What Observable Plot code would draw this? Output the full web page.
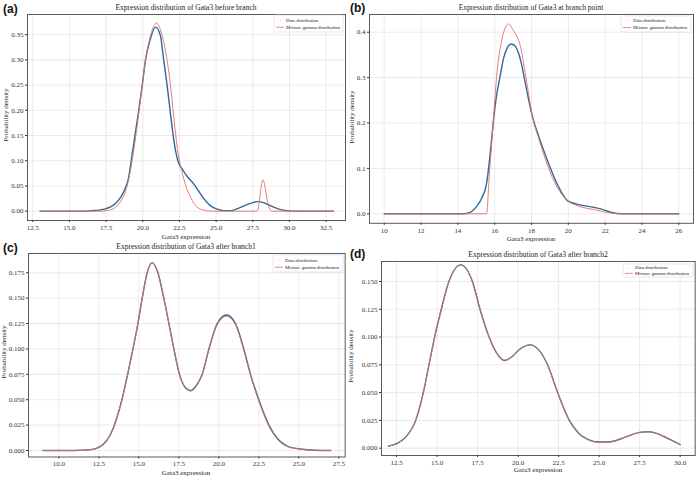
<!DOCTYPE html>
<html><head><meta charset="utf-8">
<script src="https://cdn.jsdelivr.net/npm/d3@7"></script>
<script src="https://cdn.jsdelivr.net/npm/@observablehq/plot@0.6"></script>
<style>
body{margin:0;background:#fff;}
#fig{position:relative;width:696px;height:479px;overflow:hidden;background:#fff;}
#fig svg{position:absolute;}
</style></head><body><div id="fig"></div>
<script>
// ---------- data ----------
const aDataX = [13,16,16.5,17,17.5,18,18.5,18.8,19,19.31,19.7,19.96,20.18,20.5,20.87,21.2,21.43,21.66,21.9,22.23,22.45,22.68,23.0,23.47,23.8,24.16,24.6,25.07,25.5,26.0,26.43,27.1,27.5,27.86,28.3,28.7,29.4,29.8,30.5,33];
const aDataY = [0,0,0.001,0.002,0.005,0.012,0.028,0.045,0.062,0.12,0.195,0.249,0.299,0.34,0.365,0.348,0.299,0.249,0.19,0.12,0.095,0.084,0.07,0.054,0.04,0.025,0.011,0.004,0.001,0.001,0.0047,0.013,0.017,0.019,0.016,0.011,0.003,0.001,0,0];
const aMixX = [13,17,17.5,18,18.5,18.8,19.0,19.38,19.96,20.18,20.5,20.93,21.32,21.66,21.89,22.1,22.38,22.68,23.0,23.25,23.5,23.7,24.16,24.5,27.8,27.95,28.05,28.2,28.35,28.5,28.65,28.8,33];
const aMixY = [0,0,0.001,0.005,0.02,0.038,0.058,0.12,0.249,0.299,0.345,0.373,0.348,0.299,0.249,0.19,0.12,0.077,0.045,0.028,0.015,0.008,0.002,0,0,0.02,0.045,0.0623,0.045,0.02,0.005,0,0];

const bDataX = [10,14.3,14.68,15.05,15.3,15.56,15.75,15.92,16.1,16.28,16.5,16.9,17.1,17.41,17.7,18.06,18.4,18.86,19.4,19.95,20.4,20.85,21.3,21.76,22.3,22.9,26];
const bDataY = [0,0,0.0035,0.018,0.035,0.067,0.13,0.2,0.26,0.30,0.345,0.374,0.37,0.338,0.28,0.213,0.17,0.118,0.065,0.029,0.022,0.018,0.015,0.011,0.0035,0,0];
const bMixX = [10,15.56,15.7,15.92,16.1,16.4,16.74,17.0,17.41,17.7,18.06,18.4,18.86,19.4,19.95,20.4,20.85,21.3,21.76,22.3,22.9,26];
const bMixY = [0,0,0.08,0.2,0.3,0.385,0.418,0.405,0.367,0.3,0.213,0.165,0.108,0.058,0.029,0.019,0.0135,0.01,0.006,0.002,0,0];

const cDataX = [9,11,12,12.6,13.0,13.4,13.86,14.3,14.63,14.94,15.21,15.52,15.84,16.19,16.56,16.88,17.19,17.54,17.9,18.23,18.6,18.96,19.38,19.9,20.48,21.04,21.56,21.98,22.5,23.13,23.7,24.27,25.1,26,27];
const cDataY = [0,0,0.0008,0.004,0.01,0.022,0.045,0.075,0.1,0.125,0.15,0.175,0.185,0.175,0.15,0.125,0.1,0.075,0.062,0.059,0.064,0.075,0.1,0.125,0.1334,0.125,0.1,0.075,0.05,0.025,0.011,0.0044,0.0015,0.0003,0];
const cMixX = [9,11,12,12.6,13.0,13.4,13.86,14.3,14.63,14.94,15.21,15.52,15.84,16.19,16.56,16.88,17.19,17.54,17.9,18.23,18.6,18.96,19.38,19.9,20.48,21.04,21.56,21.98,22.5,23.13,23.7,24.27,25.1,26,27];
const cMixY = [0,0,0.0008,0.004,0.01,0.022,0.045,0.075,0.1,0.125,0.15,0.175,0.1845,0.175,0.15,0.125,0.1,0.075,0.062,0.0585,0.064,0.075,0.1,0.124,0.132,0.124,0.099,0.074,0.049,0.024,0.0105,0.004,0.0013,0.0002,0];

const dDataX = [12,12.5,13.06,13.68,14.15,14.5,14.85,15.26,15.73,16.46,17.18,17.65,18.21,18.7,19.14,19.6,20.1,20.74,21.3,21.82,22.44,23.16,23.77,24.3,25,25.5,26,26.5,27,27.5,28,28.5,29,29.5,30];
const dDataY = [0.0018,0.004,0.0099,0.025,0.05,0.075,0.1,0.125,0.15,0.165,0.15,0.125,0.1,0.085,0.0789,0.082,0.089,0.093,0.088,0.075,0.05,0.025,0.013,0.008,0.0055,0.0055,0.0067,0.0093,0.012,0.0142,0.0148,0.0135,0.0105,0.007,0.0032];
const dMixX = [12,12.5,13.06,13.68,14.15,14.5,14.85,15.26,15.73,16.46,17.18,17.65,18.21,18.7,19.14,19.6,20.1,20.74,21.3,21.82,22.44,23.16,23.77,24.3,25,25.5,26,26.5,27,27.5,28,28.5,29,29.5,30];
const dMixY = [0.0018,0.004,0.0099,0.025,0.05,0.075,0.1,0.125,0.15,0.1648,0.15,0.125,0.1,0.085,0.079,0.082,0.089,0.0928,0.088,0.075,0.05,0.025,0.0128,0.0078,0.005,0.0052,0.0065,0.0092,0.012,0.0142,0.0148,0.0135,0.0105,0.007,0.0032];

const aXTicks = [12.5,15,17.5,20,22.5,25,27.5,30,32.5];
const aYTicks = [0,0.05,0.1,0.15,0.2,0.25,0.3,0.35];
const bXTicks = [10,12,14,16,18,20,22,24,26];
const bYTicks = [0,0.1,0.2,0.3,0.4];
const cXTicks = [10,12.5,15,17.5,20,22.5,25,27.5];
const cYTicks = [0,0.025,0.05,0.075,0.1,0.125,0.15,0.175];
const dXTicks = [12.5,15,17.5,20,22.5,25,27.5,30];
const dYTicks = [0,0.025,0.05,0.075,0.1,0.125,0.15];

const panelLetters = ["(a)","(b)","(c)","(d)"];
const panelTitles = ["Expression distribution of Gata3 before branch","Expression distribution of Gata3 at branch point","Expression distribution of Gata3 after branch1","Expression distribution of Gata3 after branch2"];
const xLabel = "Gata3 expression";
const yLabel = "Probability density";
const legendLabels = ["Data distribution","Mixture gamma distribution"];

// ---------- layout ----------
const BLUE = "#2e6a96", RED = "#e46c6c";
const SERIF = "'Liberation Serif','Times New Roman',serif";
const fig = document.getElementById("fig");
const zip = (xs, ys) => xs.map((x, i) => ({x, y: ys[i]}));

const panels = [
  {L:27, T:14, R:345, B:220, xd:[12.14,33.82], yd:[-0.0185,0.390], xt:aXTicks, yt:aYTicks, xf:d=>d.toFixed(1), yf:d=>d.toFixed(2),
   data:zip(aDataX,aDataY), mix:zip(aMixX,aMixY), lab:[3,9], ttl:[186,7], xl:[186,236.5], yl:[6,115], leg:[274,15,343,32]},
  {L:369, T:14, R:693, B:222.8, xd:[9.2,26.8], yd:[-0.0209,0.439], xt:bXTicks, yt:bYTicks, xf:d=>String(d), yf:d=>d.toFixed(1),
   data:zip(bDataX,bDataY), mix:zip(bMixX,bMixY), lab:[350,8], ttl:[531,7.5], xl:[531,238.5], yl:[352,117], leg:[621,16,691,32]},
  {L:28, T:252.5, R:344.7, B:456, xd:[8.1,27.9], yd:[-0.0064,0.194], xt:cXTicks, yt:cYTicks, xf:d=>d.toFixed(1), yf:d=>d.toFixed(3),
   data:zip(cDataX,cDataY), mix:zip(cMixX,cMixY), lab:[3,248], ttl:[186,246.5], xl:[186,473], yl:[4,352], leg:[273,255,343,272]},
  {L:381, T:261, R:694.7, B:455, xd:[11.57,30.93], yd:[-0.0066,0.168], xt:dXTicks, yt:dYTicks, xf:d=>d.toFixed(1), yf:d=>d.toFixed(3),
   data:zip(dDataX,dDataY), mix:zip(dMixX,dMixY), lab:[350,254], ttl:[538,254], xl:[538,470], yl:[351,356], leg:[623,264,693,277]}
];

const mL = 26, mR = 2, mT = 2, mB = 14;
panels.forEach(p => {
  const svg = Plot.plot({
    width: p.R - p.L + mL + mR,
    height: p.B - p.T + mT + mB,
    marginLeft: mL, marginRight: mR, marginTop: mT, marginBottom: mB,
    style: {background: "transparent", fontFamily: SERIF, fontSize: "7px", color: "#333", overflow: "visible"},
    x: {domain: p.xd},
    y: {domain: p.yd},
    marks: [
      Plot.gridX(p.xt, {stroke: "#cfcfcf", strokeOpacity: 0.7, strokeWidth: 0.6}),
      Plot.gridY(p.yt, {stroke: "#cfcfcf", strokeOpacity: 0.7, strokeWidth: 0.6}),
      Plot.line(p.data, {x: "x", y: "y", stroke: BLUE, strokeWidth: 1.4, curve: "monotone-x"}),
      Plot.line(p.mix, {x: "x", y: "y", stroke: RED, strokeWidth: 0.9, curve: "monotone-x"}),
      Plot.frame({stroke: "#5a5a5a", strokeWidth: 1}),
      Plot.axisX(p.xt, {tickFormat: p.xf, tickSize: 2, tickPadding: 2.5, label: null}),
      Plot.axisY(p.yt, {tickFormat: p.yf, tickSize: 2, tickPadding: 2, label: null})
    ]
  });
  svg.style.left = (p.L - mL) + "px";
  svg.style.top = (p.T - mT) + "px";
  fig.appendChild(svg);
});

// overlay for texts and legends
const ov = d3.select(fig).append("svg").attr("width", 696).attr("height", 479)
  .style("left", "0px").style("top", "0px").style("pointer-events", "none");
panels.forEach((p, i) => {
  ov.append("text").attr("x", p.lab[0]).attr("y", p.lab[1]).attr("dominant-baseline", "central")
    .attr("font-family", "'Liberation Sans',Arial,sans-serif").attr("font-weight", "bold").attr("font-size", 12).attr("fill", "#111")
    .text(panelLetters[i]);
  ov.append("text").attr("x", p.ttl[0]).attr("y", p.ttl[1]).attr("text-anchor", "middle").attr("dominant-baseline", "central")
    .attr("font-family", SERIF).attr("font-size", 7.5).attr("fill", "#222").text(panelTitles[i]);
  ov.append("text").attr("x", p.xl[0]).attr("y", p.xl[1]).attr("text-anchor", "middle").attr("dominant-baseline", "central")
    .attr("font-family", SERIF).attr("font-size", 7).attr("fill", "#222").text(xLabel);
  ov.append("text").attr("transform", `translate(${p.yl[0]},${p.yl[1]}) rotate(-90)`).attr("text-anchor", "middle").attr("dominant-baseline", "central")
    .attr("font-family", SERIF).attr("font-size", 7).attr("fill", "#222").text(yLabel);
  const [x0, y0, x1, y1] = p.leg;
  ov.append("rect").attr("x", x0).attr("y", y0).attr("width", x1 - x0).attr("height", y1 - y0).attr("rx", 1.5)
    .attr("fill", "#fff").attr("fill-opacity", 0.85).attr("stroke", "#d8d8d8").attr("stroke-width", 0.6);
  const r1 = y0 + (y1 - y0) * 0.3, r2 = y0 + (y1 - y0) * 0.72;
  ov.append("text").attr("x", x0 + 6).attr("y", r1).attr("text-anchor", "middle").attr("dominant-baseline", "central")
    .attr("font-size", 4.5).attr("fill", BLUE).attr("font-family", SERIF).text("+");
  ov.append("line").attr("x1", x0 + 2).attr("x2", x0 + 10).attr("y1", r2).attr("y2", r2).attr("stroke", RED).attr("stroke-width", 0.8);
  ov.append("text").attr("x", x0 + 12).attr("y", r1).attr("dominant-baseline", "central").attr("font-family", SERIF)
    .attr("font-size", 4.8).attr("fill", "#222").text(legendLabels[0]);
  ov.append("text").attr("x", x0 + 12).attr("y", r2).attr("dominant-baseline", "central").attr("font-family", SERIF)
    .attr("font-size", 4.8).attr("fill", "#222").text(legendLabels[1]);
});
</script>
</body></html>
